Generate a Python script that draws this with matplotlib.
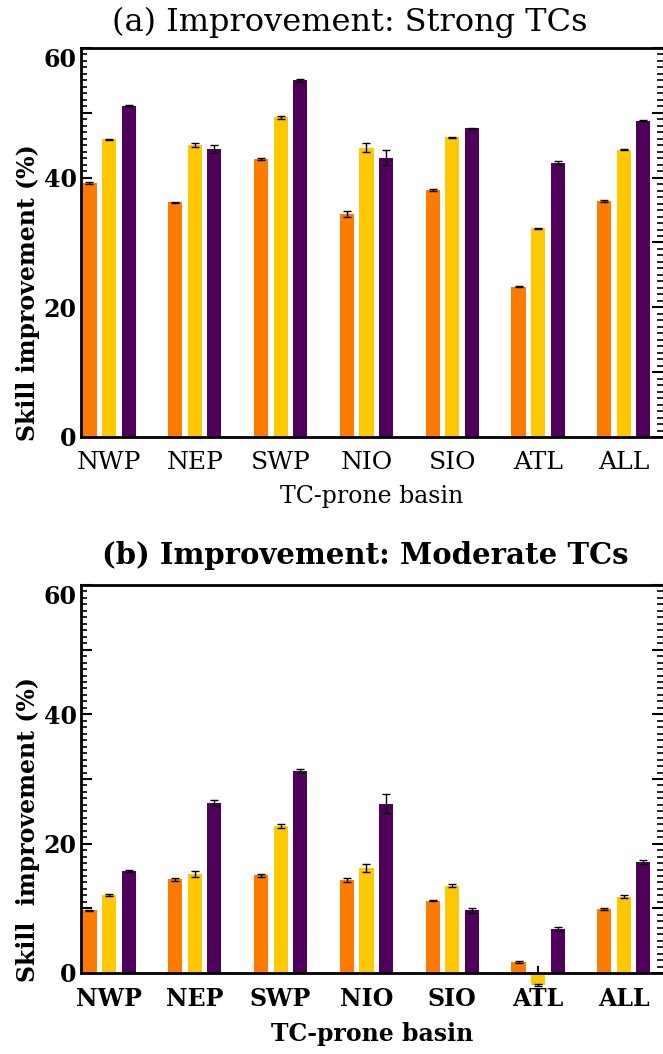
import matplotlib
matplotlib.use("Agg")
import matplotlib.pyplot as plt
import numpy as np
from matplotlib.ticker import MultipleLocator, FuncFormatter

basins = ["NWP", "NEP", "SWP", "NIO", "SIO", "ATL", "ALL"]

# Panel (a): Strong TCs
strong_orange = [39.2, 36.2, 42.9, 34.4, 38.1, 23.2, 36.4]
strong_yellow = [45.9, 45.1, 49.3, 44.6, 46.2, 32.2, 44.3]
strong_purple = [51.1, 44.4, 55.0, 43.1, 47.6, 42.3, 48.8]
strong_orange_err = [0.1, 0.1, 0.2, 0.5, 0.1, 0.1, 0.1]
strong_yellow_err = [0.1, 0.3, 0.2, 0.7, 0.1, 0.1, 0.1]
strong_purple_err = [0.1, 0.6, 0.2, 1.1, 0.1, 0.3, 0.1]

# Panel (b): Moderate TCs
mod_orange = [9.7, 14.5, 15.1, 14.4, 11.2, 1.7, 9.9]
mod_yellow = [12.0, 15.3, 22.7, 16.2, 13.5, -1.9, 11.8]
mod_purple = [15.8, 26.3, 31.2, 26.2, 9.7, 6.8, 17.2]
mod_orange_err = [0.1, 0.2, 0.2, 0.3, 0.1, 0.1, 0.15]
mod_yellow_err = [0.15, 0.4, 0.3, 0.6, 0.2, 0.15, 0.2]
mod_purple_err = [0.2, 0.4, 0.3, 1.5, 0.4, 0.3, 0.3]

yticks_labeled = [0, 20, 40, 60]

C_ORANGE = "#ff7b00"
C_YELLOW = "#ffc800"
C_PURPLE = "#4f005a"

FONT = "DejaVu Serif"

W, H = 663, 1054
fig = plt.figure(figsize=(W / 100, H / 100), dpi=100)


def make_panel(rect, title, ylabel, series, errs, tick_weight, title_weight,
               title_x, title_y, title_size, tick_size):
    ax = fig.add_axes(rect)
    x = np.arange(len(basins))
    offs = [-0.228, 0.0, 0.228]
    colors = [C_ORANGE, C_YELLOW, C_PURPLE]
    for vals, err, off, c in zip(series, errs, offs, colors):
        ax.bar(x + off, vals, width=0.164, color=c, zorder=2, clip_on=False)
        ax.errorbar(x + off, vals, yerr=err, fmt="none", ecolor="black",
                    elinewidth=1.0, capsize=3, capthick=1.0, zorder=3,
                    clip_on=False)
    ax.set_xlim(-0.327, 6.456)
    ax.set_ylim(0, 60)

    ax.set_xticks(x)
    ax.set_xticklabels(basins, fontfamily=FONT, fontsize=tick_size,
                       fontweight=tick_weight)
    ax.set_xticks(np.concatenate([x - 0.228, x + 0.228]), minor=True)
    ax.tick_params(axis="x", which="both", direction="in", length=5,
                   width=1.5, pad=10, top=False)

    ax.yaxis.set_major_locator(MultipleLocator(10))
    ax.yaxis.set_minor_locator(MultipleLocator(1))
    ax.yaxis.set_major_formatter(FuncFormatter(
        lambda v, p: f"{int(round(v))}" if int(round(v)) in yticks_labeled else ""))
    ax.tick_params(axis="y", which="major", direction="in", length=8,
                   width=1.5, left=True, right=True, pad=3)
    ax.tick_params(axis="y", which="minor", direction="in", length=4,
                   width=1.2, left=True, right=True)
    for lab in ax.get_yticklabels():
        lab.set_fontfamily(FONT)
        lab.set_fontsize(17)
        lab.set_fontweight("bold")
    for lab in ax.get_yticklabels():
        if lab.get_text() == "60":
            lab.set_va("top")

    for s in ["left", "bottom", "top"]:
        ax.spines[s].set_linewidth(2.0)
    ax.spines["right"].set_visible(False)

    ax.text(title_x, title_y, title, transform=ax.transAxes, ha="center",
            va="center", fontfamily=FONT, fontsize=title_size,
            fontweight=title_weight)
    ax.set_ylabel(ylabel, fontfamily=FONT, fontsize=17, fontweight="bold")
    ax.yaxis.set_label_coords(-0.07, 0.37)
    ax.set_xlabel("TC-prone basin", fontfamily=FONT, fontsize=17,
                  fontweight=tick_weight, labelpad=8)
    return ax


make_panel([81 / W, 1 - 437 / H, 582 / W, 389 / H],
           "(a) Improvement: Strong TCs", "Skill improvement (%)",
           [strong_orange, strong_yellow, strong_purple],
           [strong_orange_err, strong_yellow_err, strong_purple_err],
           "normal", "normal", 0.462, 1.0 + 26 / 389, 23, 18)

make_panel([81 / W, 1 - 973 / H, 582 / W, 388 / H],
           "(b) Improvement: Moderate TCs", "Skill  improvement (%)",
           [mod_orange, mod_yellow, mod_purple],
           [mod_orange_err, mod_yellow_err, mod_purple_err],
           "bold", "bold", 0.488, 1.0 + 29 / 388, 21, 17)

fig.savefig("out.png", dpi=100)
